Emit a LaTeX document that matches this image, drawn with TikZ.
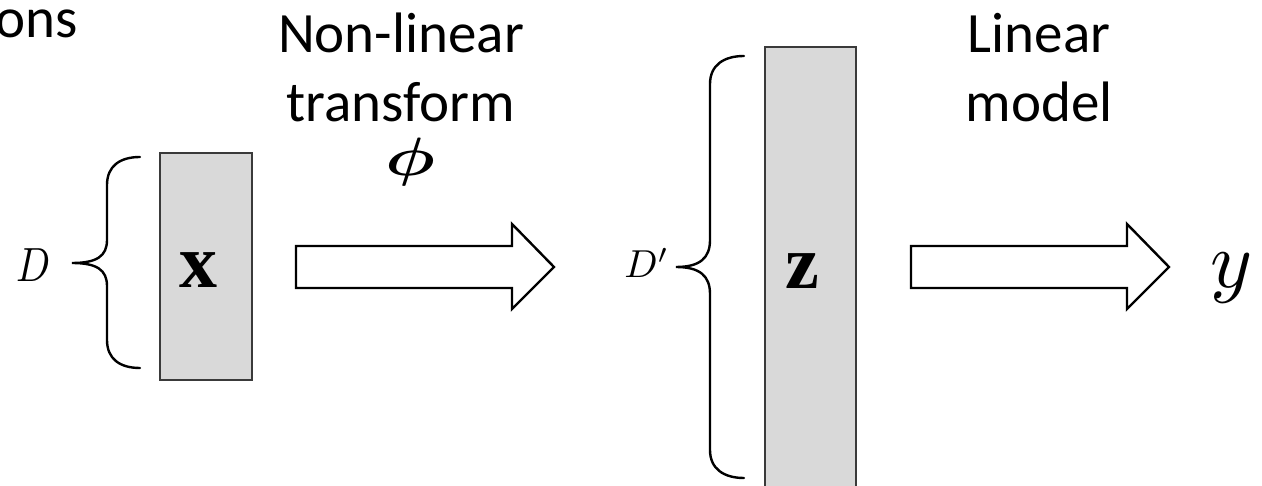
\documentclass[tikz,border=0pt]{standalone}
\usepackage{amsmath}
\usepackage{fontspec}
\setmainfont{Carlito}
\newfontfamily\serifbf{Liberation Serif}
\definecolor{boxfill}{HTML}{D9D9D9}
\definecolor{boxline}{HTML}{3A3A3A}
\tikzset{
  vecbox/.style={draw=boxline, fill=boxfill, line width=2pt, inner sep=0pt},
  bigtext/.style={font=\fontsize{57}{66}\selectfont, inner sep=0pt},
  brace/.style={draw=black, line width=2.4pt, line cap=round},
  blockarrow/.style={draw=black, fill=white, line width=2.4pt, line join=miter},
  vecletter/.style={font=\fontsize{76}{80}\selectfont\serifbf\bfseries, inner sep=0pt},
  mathlabel/.style={inner sep=0pt}
}
\begin{document}
\begin{tikzpicture}[x=1pt,y=-1pt]
\useasboundingbox (0,0) rectangle (1262,486);
\clip (0,0) rectangle (1262,486);

% cut-off title fragment
\node[bigtext, anchor=base east] (ons) at (78,38) {ons};

% labels above arrows
\node[bigtext, anchor=base] (nl1) at (401,53) {Non-linear};
\node[bigtext, anchor=base] (nl2) at (401,122) {transform};
\node[mathlabel] (phi) at (410,162) {\scalebox{7}[5.4]{$\boldsymbol{\phi}$}};
\node[bigtext, anchor=base] (lm1) at (1039,53) {Linear};
\node[bigtext, anchor=base] (lm2) at (1039,122) {model};

% input vector
\node[vecbox, minimum width=92pt, minimum height=227pt] (xbox) at (206,266.5) {};
\node[vecletter] (xl) at (198,270) {x};

% feature vector
\node[vecbox, minimum width=91pt, minimum height=480pt, anchor=north] (zbox) at (810.5,46) {};
\node[vecletter] (zl) at (802,271) {z};

% braces
\draw[brace] (140,157) .. controls (120,157) and (107,166) .. (107,185) -- (107,240)
  .. controls (107,256) and (97,263) .. (72,263)
  .. controls (97,263) and (107,270) .. (107,286) -- (107,340)
  .. controls (107,359) and (120,368) .. (140,368);
\draw[brace] (744,56) .. controls (724,56) and (710,65) .. (710,84) -- (710,240)
  .. controls (710,258) and (700,267) .. (676,267)
  .. controls (700,267) and (710,276) .. (710,294) -- (710,450)
  .. controls (710,469) and (724,478) .. (744,478);

\node[mathlabel, anchor=base west] (D) at (16,282) {\scalebox{4.0}[4.8]{$D$}};
\node[mathlabel, anchor=base east] (Dp) at (669,278) {\scalebox{3.9}{$D'$}};

% block arrows
\draw[blockarrow] (296,246) -- (512,246) -- (512,224) -- (554,267) -- (512,309) -- (512,288) -- (296,288) -- cycle;
\draw[blockarrow] (911,246) -- (1127,246) -- (1127,224) -- (1169,267) -- (1127,309) -- (1127,288) -- (911,288) -- cycle;

% output
\node[mathlabel, anchor=base west] (y) at (1210,288) {\scalebox{8}{$y$}};
\end{tikzpicture}
\end{document}
